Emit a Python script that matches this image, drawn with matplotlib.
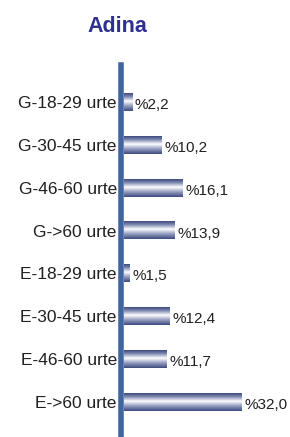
import numpy as np
import matplotlib.pyplot as plt
from matplotlib.colors import LinearSegmentedColormap

plt.rcParams['font.family'] = ['Liberation Sans', 'DejaVu Sans']

title = "Adina"
categories = ["G-18-29 urte", "G-30-45 urte", "G-46-60 urte", "G->60 urte",
              "E-18-29 urte", "E-30-45 urte", "E-46-60 urte", "E->60 urte"]
values = [2.2, 10.2, 16.1, 13.9, 1.5, 12.4, 11.7, 32.0]
value_labels = ["%2,2", "%10,2", "%16,1", "%13,9", "%1,5", "%12,4", "%11,7", "%32,0"]

W, H = 290, 437
fig = plt.figure(figsize=(W / 100, H / 100), dpi=100)
# bars start right of the thick axis line
ax = fig.add_axes([124 / W, 0, (W - 124) / W, 372 / H])

# spine first: moving it resets the tick labels
for s in ['top', 'right', 'bottom']:
    ax.spines[s].set_visible(False)
ax.spines['left'].set_position(('outward', 2.2))
ax.spines['left'].set_color('#4065a0')
ax.spines['left'].set_linewidth(4)
ax.spines['left'].set_zorder(4)

pos = np.arange(len(categories))
bar_h = 0.41
bars = ax.barh(pos, values, height=bar_h, color='#4a5a8c', zorder=2)

# vertical gradient: dark edge -> white -> dark edge
cmap = LinearSegmentedColormap.from_list(
    'g', [(0, '#3d4a7e'), (0.2, '#7f8bb2'), (0.45, '#ffffff'), (0.7, '#9aa3c4'), (1, '#3d4a7e')])
grad = np.linspace(0, 1, 64).reshape(-1, 1)
for b in bars:
    x0, y0 = b.get_x(), b.get_y()
    w, h = b.get_width(), b.get_height()
    ax.imshow(grad, cmap=cmap, aspect='auto', origin='upper',
              extent=(x0, x0 + w, y0 + h, y0), zorder=3, interpolation='bilinear')

for p, v, lab in zip(pos, values, value_labels):
    ax.text(v + 0.8, p + 0.07, lab, va='center', ha='left', fontsize=11, color='#231f20')

ax.set_xlim(0, 166 / 3.66)
ax.set_ylim(7.816, -0.863)
ax.set_yticks(pos)
ax.set_yticklabels(categories, fontsize=12.5, color='#231f20')
ax.tick_params(axis='y', length=0, pad=3)
ax.set_xticks([])

fig.text(117 / W, 1 - 27 / H, title, ha='center', va='center', fontsize=15.5,
         fontweight='bold', color='#2e3192')

fig.savefig('out.png', dpi=100)
